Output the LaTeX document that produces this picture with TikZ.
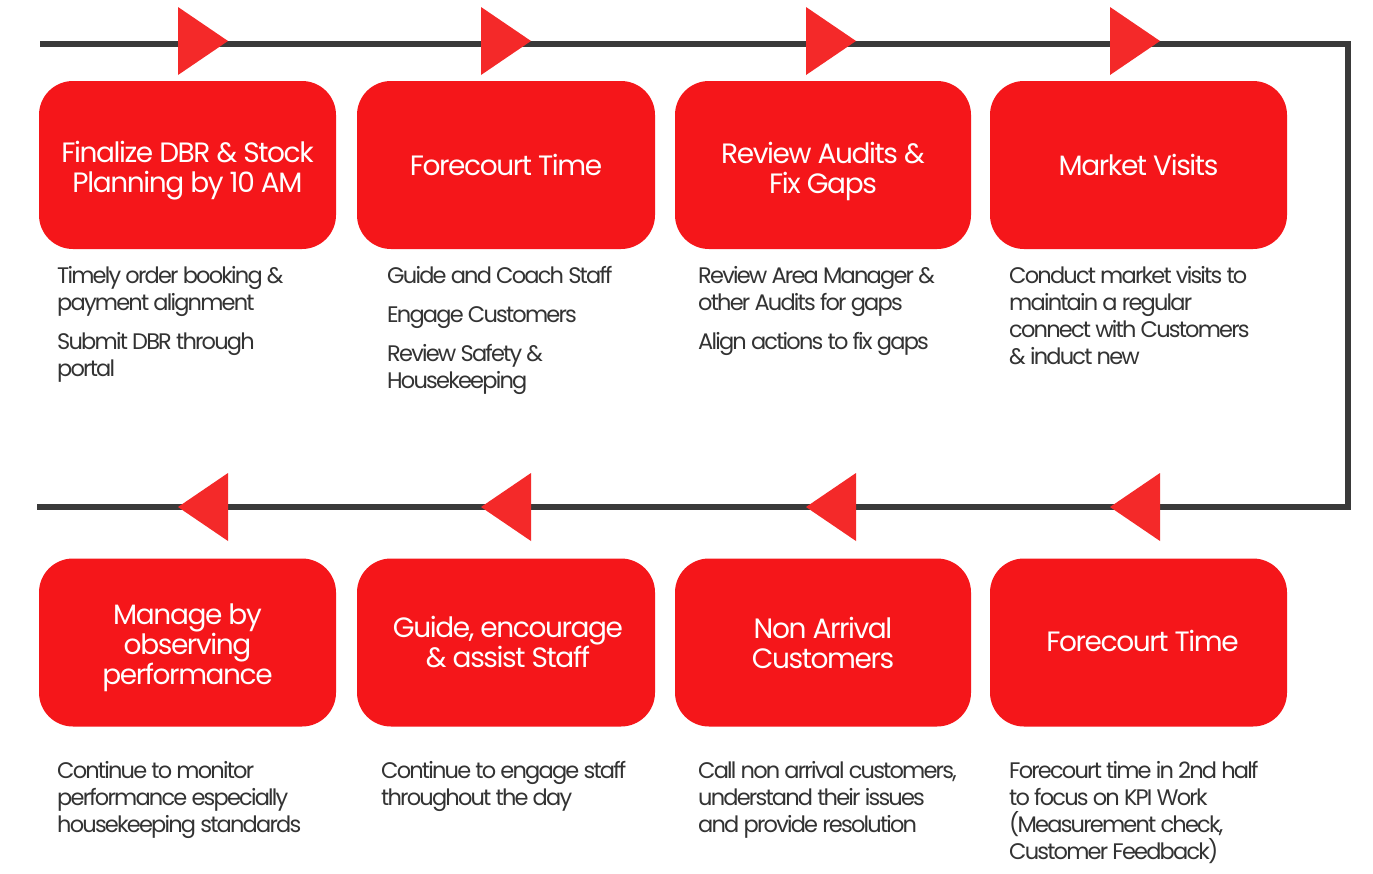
\documentclass[tikz,border=0pt]{standalone}
\usepackage{fontspec}
\setmainfont{Poppins}
\newfontfamily\bodyf[LetterSpace=-8]{Poppins}
\newfontfamily\titlef[LetterSpace=-5]{Poppins}
\definecolor{boxred}{HTML}{F5161A}
\definecolor{trired}{HTML}{F42929}
\definecolor{linegray}{HTML}{3A3A3A}
\definecolor{txtgray}{HTML}{333333}
\begin{document}
\begin{tikzpicture}[x=1pt,y=-1pt,
  stepbox/.style={fill=boxred, rounded corners=34pt, minimum height=168pt, inner sep=0pt},
  title/.style={inner sep=0pt, align=center, text=white, font=\titlef\fontsize{28}{30}\selectfont},
  desc/.style={anchor=base west, inner sep=0pt, align=left, text=txtgray, font=\bodyf\fontsize{22.5}{27}\selectfont},
  tri/.style={fill=trired},
  flow/.style={draw=linegray, line width=6pt}]
\useasboundingbox (0,0) rectangle (1373,873);
\fill[white] (0,0) rectangle (1373,873);
% loop line
\coordinate (s) at (40,44);
\coordinate (c1) at (1348,44);
\coordinate (c2) at (1348,507);
\coordinate (e) at (37,507);
\draw[flow] (s) -- (c1) -- (c2) -- (e);
% triangles
\foreach \x in {178,481,806,1110}{
  \fill[tri] (\x,7) -- (\x+50,41) -- (\x,75) -- cycle;
  \fill[tri] (\x,507) -- (\x+50,473) -- (\x+50,541) -- cycle;
}
% boxes
\node[stepbox, minimum width=297pt] (b1) at (187.5,165) {};
\node[stepbox, minimum width=298pt] (b2) at (506,165) {};
\node[stepbox, minimum width=296pt] (b3) at (823,165) {};
\node[stepbox, minimum width=297pt] (b4) at (1138.5,165) {};
\node[stepbox, minimum width=297pt] (b5) at (187.5,642.5) {};
\node[stepbox, minimum width=298pt] (b6) at (506,642.5) {};
\node[stepbox, minimum width=296pt] (b7) at (823,642.5) {};
\node[stepbox, minimum width=297pt] (b8) at (1138.5,642.5) {};
% titles
\node[title] (t1) at ([yshift=-6pt]b1.center) {Finalize DBR \& Stock\\Planning by 10 AM};
\node[title] (t2) at (b2.center) {Forecourt Time};
\node[title] (t3) at ([yshift=-6pt]b3.center) {Review Audits \&\\Fix Gaps};
\node[title] (t4) at (b4.center) {Market Visits};
\node[title] (t5) at ([yshift=-5pt]b5.center) {Manage by\\observing\\performance};
\node[title] (t6) at ([xshift=2pt]b6.center) {Guide, encourage\\\& assist Staff};
\node[title] (t7) at (b7.center) {Non Arrival\\Customers};
\node[title] (t8) at ([xshift=4pt,yshift=2pt]b8.center) {Forecourt Time};
% descriptions (anchor = baseline of last line)
\node[desc] (d1) at (57,376) {Timely order booking \&\\payment alignment\\[12pt]Submit DBR through\\portal};
\node[desc] (d2) at (387,388) {Guide and Coach Staff\\[12pt]Engage Customers\\[12pt]Review Safety \&\\Housekeeping};
\node[desc] (d3) at (698,349) {Review Area Manager \&\\other Audits for gaps\\[12pt]Align actions to fix gaps};
\node[desc] (d4) at (1009,364) {Conduct market visits to\\maintain a regular\\connect with Customers\\\& induct new};
\node[desc] (d5) at (57,832) {Continue to monitor\\performance especially\\housekeeping standards};
\node[desc] (d6) at (381,805) {Continue to engage staff\\throughout the day};
\node[desc] (d7) at (698,832) {Call non arrival customers,\\understand their issues\\and provide resolution};
\node[desc] (d8) at (1009,859) {Forecourt time in 2nd half\\to focus on KPI Work\\(Measurement check,\\Customer Feedback)};
\end{tikzpicture}
\end{document}
